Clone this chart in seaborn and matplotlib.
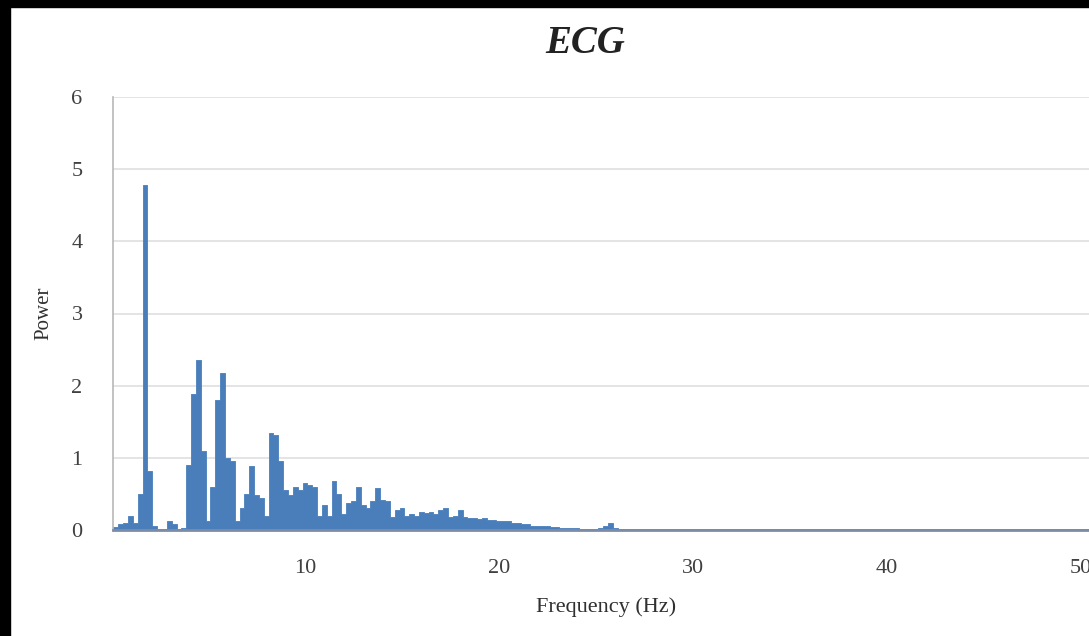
import numpy as np
import pandas as pd
import seaborn as sns
import matplotlib.pyplot as plt
from matplotlib.patches import Rectangle
from matplotlib.ticker import MultipleLocator

# power spectrum, 0.25 Hz bins from 0.25 to 27 Hz
freq = np.arange(0.25, 27.01, 0.25)
power = [
    0.04, 0.08, 0.10, 0.20, 0.10, 0.50, 4.78, 0.82,   # 0.25 - 2.0
    0.05, 0.02, 0.02, 0.12, 0.08, 0.02, 0.03, 0.90,   # 2.25 - 4.0
    1.88, 2.35, 1.10, 0.12, 0.60, 1.80, 2.18, 1.00,   # 4.25 - 6.0
    0.95, 0.12, 0.30, 0.50, 0.88, 0.48, 0.45, 0.20,   # 6.25 - 8.0
    1.35, 1.32, 0.95, 0.55, 0.48, 0.60, 0.55, 0.65,   # 8.25 - 10.0
    0.62, 0.60, 0.20, 0.35, 0.20, 0.68, 0.50, 0.22,   # 10.25 - 12.0
    0.38, 0.40, 0.60, 0.35, 0.30, 0.40, 0.58, 0.42,   # 12.25 - 14.0
    0.40, 0.18, 0.28, 0.30, 0.20, 0.22, 0.20, 0.25,   # 14.25 - 16.0
    0.24, 0.25, 0.22, 0.28, 0.30, 0.18, 0.20, 0.28,   # 16.25 - 18.0
    0.18, 0.17, 0.17, 0.15, 0.16, 0.14, 0.14, 0.13,   # 18.25 - 20.0
    0.12, 0.12, 0.10, 0.10, 0.09, 0.08, 0.06, 0.06,   # 20.25 - 22.0
    0.05, 0.05, 0.04, 0.04, 0.03, 0.03, 0.03, 0.03,   # 22.25 - 24.0
    0.02, 0.02, 0.02, 0.02, 0.03, 0.06, 0.10, 0.03,   # 24.25 - 26.0
    0.02, 0.02, 0.02, 0.02,                           # 26.25 - 27.0
]
# flat tail out to 50 Hz
tail_freq = [38.0]
tail_power = [0.02]

x_ticks = [10, 20, 30, 40, 50]
y_ticks = [0, 1, 2, 3, 4, 5, 6]

df = pd.DataFrame({
    "freq": list(freq) + tail_freq,
    "power": power + tail_power,
})
edges = list(np.arange(0.125, 27.126, 0.25)) + [50.5]

sns.set_style("white")
plt.rcParams["font.family"] = ["Liberation Serif", "DejaVu Serif"]

fig = plt.figure(figsize=(10.89, 6.36), dpi=100)
ax = fig.add_axes([113 / 1089, 106 / 636, 987 / 1089, 433 / 636])

blue = "#4a7ebb"
sns.histplot(data=df, x="freq", weights="power", bins=edges, element="step",
             fill=True, color=blue, alpha=1, linewidth=0.6, ax=ax)

ax.set_xlim(0.1, 51)
ax.set_ylim(0, 6)
ax.set_xticks(x_ticks)
ax.set_yticks(y_ticks)
ax.yaxis.set_minor_locator(MultipleLocator(0.2))
ax.set_xticklabels([str(t) for t in x_ticks], fontsize=16, color="#404040")
ax.set_yticklabels([str(t) for t in y_ticks], fontsize=16, color="#404040")
ax.yaxis.grid(True, which="major", color="#e2e2e2", linewidth=1.3)
ax.set_axisbelow(True)
ax.tick_params(axis="y", which="major", length=5, width=1, color="#b0b0b0", pad=17)
ax.tick_params(axis="y", which="minor", length=2.5, width=0.8, color="#c8c8c8")
ax.tick_params(axis="x", length=0, pad=21)

for side in ["top", "right"]:
    ax.spines[side].set_visible(False)
ax.spines["left"].set_color("#b8b8b8")
ax.spines["left"].set_linewidth(1.2)
ax.spines["bottom"].set_color("#7d8ca6")
ax.spines["bottom"].set_linewidth(2)

ax.set_xlabel("Frequency (Hz)", fontsize=16, color="#303030", labelpad=14)
ax.set_ylabel("Power", fontsize=15, color="#303030", labelpad=13)
fig.text(0.537, 0.932, "ECG", ha="center", va="center", fontsize=28,
         fontweight="bold", fontstyle="italic", color="#222222")

# dark frame left and top of the screenshot
fig.patches.append(Rectangle((0, 0), 10 / 1089, 1, transform=fig.transFigure,
                             color="black", zorder=10))
fig.patches.append(Rectangle((0, 1 - 7 / 636), 1, 7 / 636, transform=fig.transFigure,
                             color="black", zorder=10))

fig.savefig("out.png", dpi=100)
